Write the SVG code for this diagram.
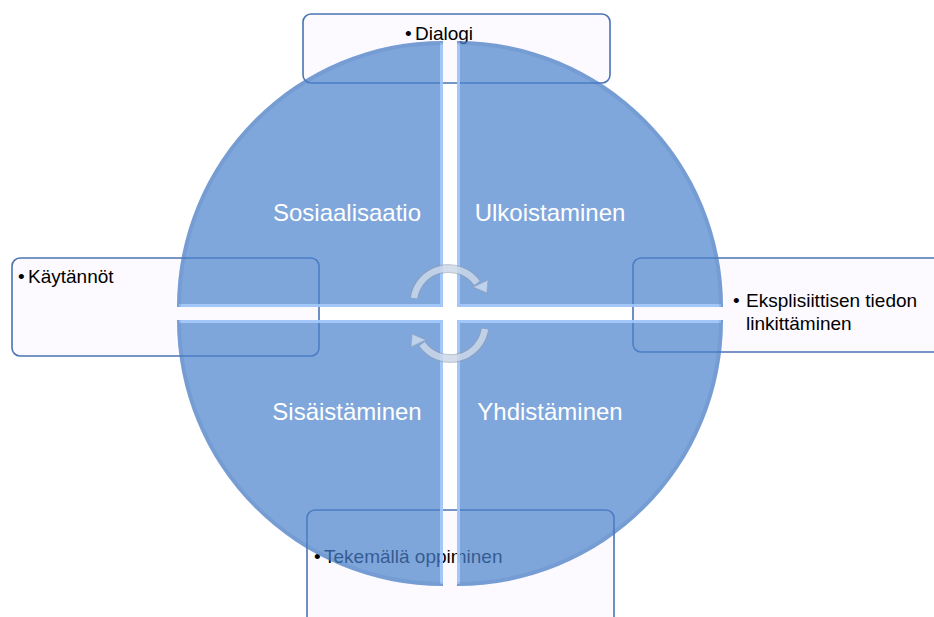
<svg xmlns="http://www.w3.org/2000/svg" width="934" height="617" viewBox="0 0 934 617">
<style>
.box{fill:#fcfaff;stroke:#4a74b4;stroke-width:1.6}
.bt{font-family:"Liberation Sans",Arial,sans-serif;font-size:19px;fill:#000}
.q{fill:#4a82cc;fill-opacity:0.7}
.hl{fill:none;stroke:#a9cdfd;stroke-width:3;stroke-opacity:0.85}
.rim{fill:none;stroke:#3a66a6;stroke-width:4;stroke-opacity:0.15}
.ql{font-family:"Liberation Sans",Arial,sans-serif;font-size:24px;fill:#fff;text-anchor:middle}
.arO{fill:none;stroke:#8e9db3;stroke-width:9;stroke-opacity:0.55}
.arI{fill:none;stroke:#dfe9f7;stroke-width:6.5;stroke-opacity:0.65}
.arH{fill:#dfe9f7;fill-opacity:0.65;stroke:#8e9db3;stroke-opacity:0.55;stroke-width:1.2}
</style>
<rect width="934" height="617" fill="#fff"/>
<g id="box-top"><rect class="box" x="303" y="14" width="307" height="69" rx="8"/><text class="bt" x="405" y="40">•</text><text class="bt" x="415" y="40">Dialogi</text></g>
<g id="box-left"><rect class="box" x="12" y="258" width="307" height="98" rx="8"/><text class="bt" x="18" y="283">•</text><text class="bt" x="28" y="283">Käytännöt</text></g>
<g id="box-right"><rect class="box" x="633" y="258" width="320" height="94" rx="8"/><text class="bt" x="733" y="307">•</text><text class="bt" x="746" y="307">Eksplisiittisen tiedon</text><text class="bt" x="746" y="330">linkittäminen</text></g>
<g id="box-bottom"><rect class="box" x="307" y="510" width="307" height="130" rx="8"/><text class="bt" x="314" y="563">•</text><text class="bt" x="324" y="563">Tekemällä oppiminen</text></g>
<g id="q-tl"><path class="q" d="M443,307 L177,307 A266,266 0 0 1 443,41 Z"/><path class="hl" d="M179,305.5 L441.5,305.5 L441.5,43"/><path class="rim" d="M179,307 A264,264 0 0 1 443,43"/><text class="ql" x="347" y="221">Sosiaalisaatio</text></g>
<g id="q-tr"><path class="q" d="M457,307 L457,41 A266,266 0 0 1 723,307 Z"/><path class="hl" d="M458.5,43 L458.5,305.5 L721,305.5"/><path class="rim" d="M457,43 A264,264 0 0 1 721,307"/><text class="ql" x="550" y="221">Ulkoistaminen</text></g>
<g id="q-bl"><path class="q" d="M443,320 L443,586 A266,266 0 0 1 177,320 Z"/><path class="hl" d="M179,321.5 L441.5,321.5 L441.5,584"/><path class="rim" d="M443,584 A264,264 0 0 1 179,320"/><text class="ql" x="347" y="420">Sisäistäminen</text></g>
<g id="q-br"><path class="q" d="M457,320 L723,320 A266,266 0 0 1 457,586 Z"/><path class="hl" d="M721,321.5 L458.5,321.5 L458.5,584"/><path class="rim" d="M721,320 A264,264 0 0 1 457,584"/><text class="ql" x="550" y="420">Yhdistäminen</text></g>
<g id="connectors">
<g id="arrow-top"><path class="arO" d="M414,298 A35,35 0 0 1 477,283"/><path class="arI" d="M414,298 A35,35 0 0 1 477,283"/><polygon class="arH" points="488,280 473,287 487,293"/></g>
<g id="arrow-bottom" transform="rotate(180 449.5 313.5)"><path class="arO" d="M414,298 A35,35 0 0 1 477,283"/><path class="arI" d="M414,298 A35,35 0 0 1 477,283"/><polygon class="arH" points="488,280 473,287 487,293"/></g>
</g>
</svg>
